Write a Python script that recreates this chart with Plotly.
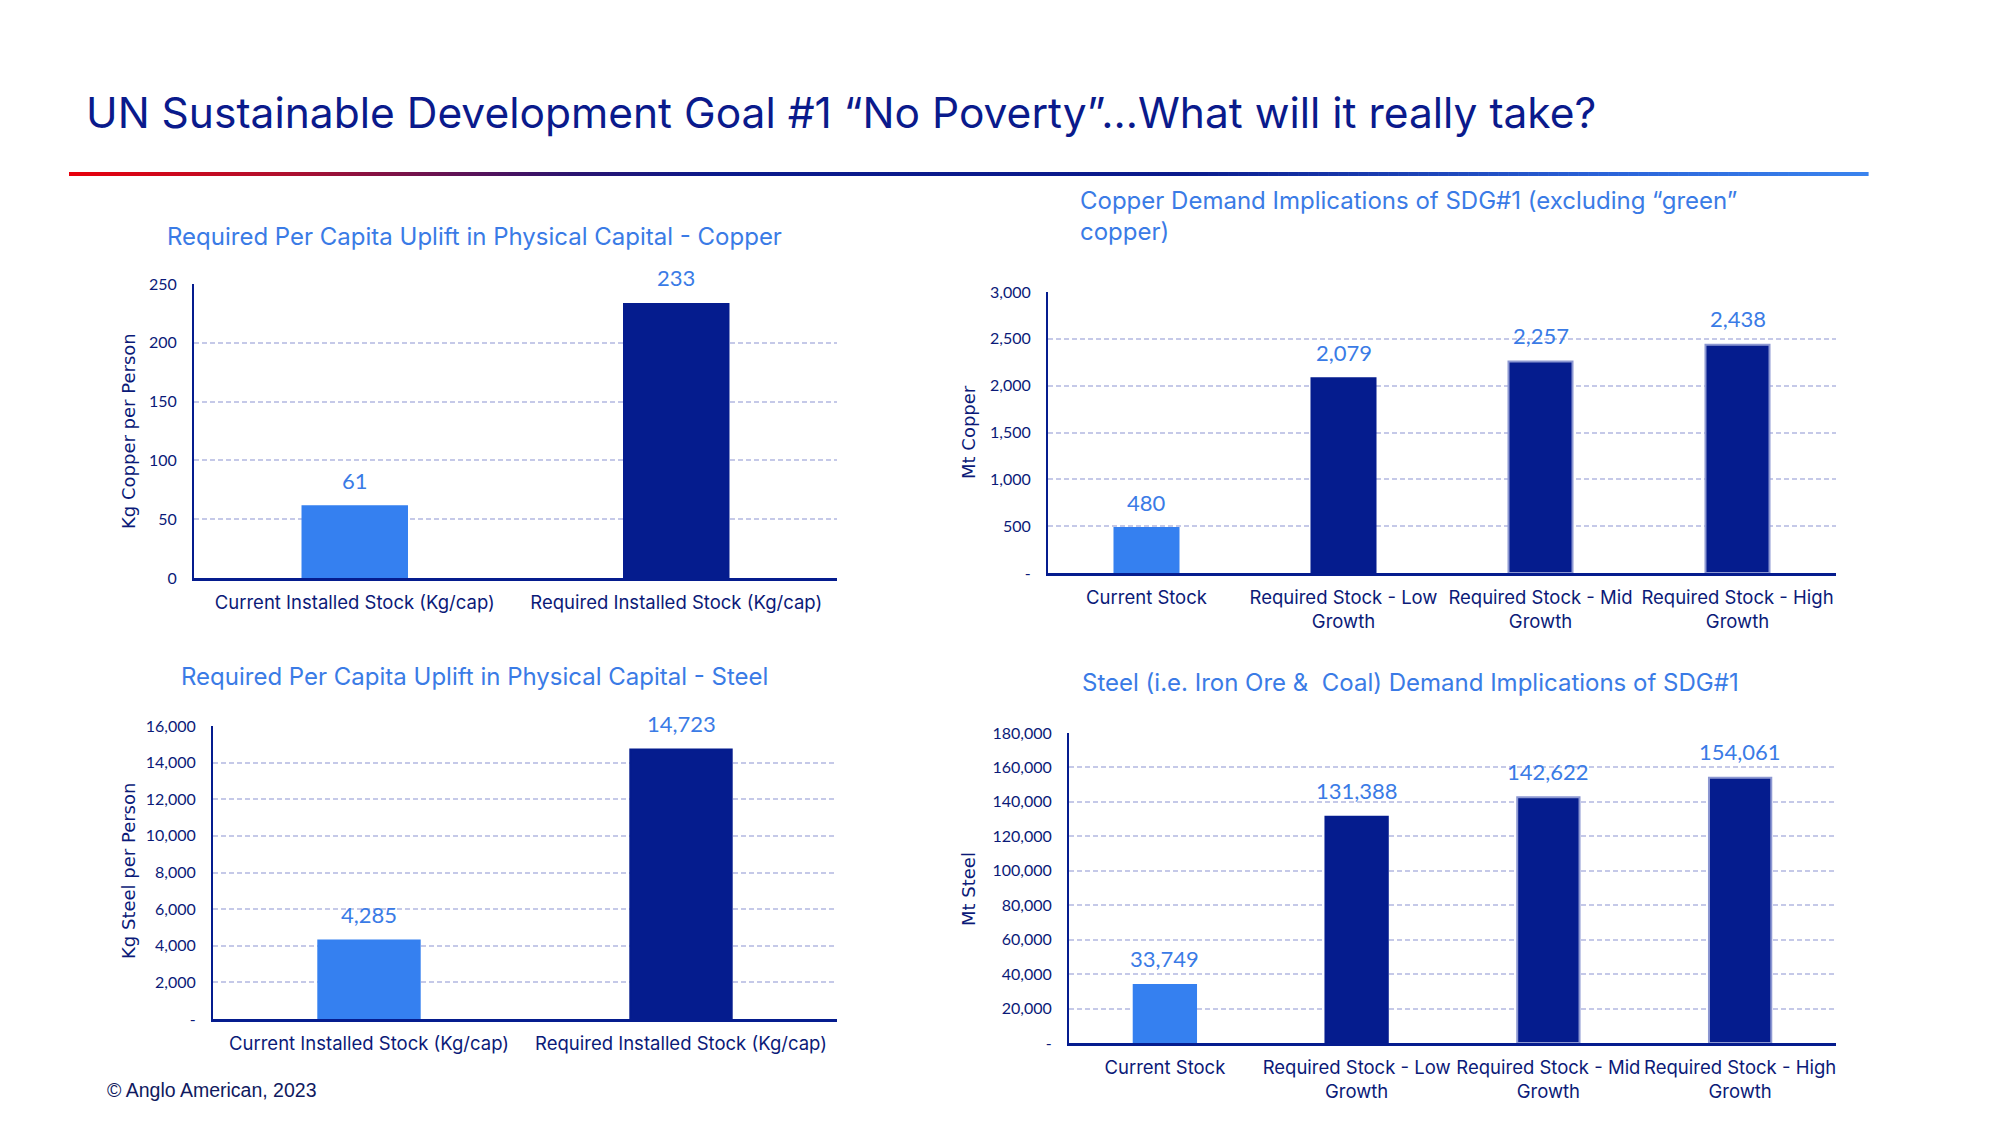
import plotly.graph_objects as go

# ---------------- data ----------------
cap_categories = ["Current Installed Stock (Kg/cap)", "Required Installed Stock (Kg/cap)"]
copper_per_capita = [61, 233]
steel_per_capita = [4285, 14723]

demand_categories = ["Current Stock", "Required Stock - Low<br>Growth",
                     "Required Stock - Mid<br>Growth", "Required Stock - High<br>Growth"]
copper_demand = [480, 2079, 2257, 2438]
steel_demand = [33749, 131388, 142622, 154061]

copper_pc_ticks = [0, 50, 100, 150, 200, 250]
copper_pc_ticktext = ["0", "50", "100", "150", "200", "250"]
copper_dem_ticks = [0, 500, 1000, 1500, 2000, 2500, 3000]
copper_dem_ticktext = ["-", "500", "1,000", "1,500", "2,000", "2,500", "3,000"]
steel_pc_ticks = [0, 2000, 4000, 6000, 8000, 10000, 12000, 14000, 16000]
steel_pc_ticktext = ["-", "2,000", "4,000", "6,000", "8,000", "10,000", "12,000", "14,000", "16,000"]
steel_dem_ticks = [0, 20000, 40000, 60000, 80000, 100000, 120000, 140000, 160000, 180000]
steel_dem_ticktext = ["-", "20,000", "40,000", "60,000", "80,000", "100,000", "120,000",
                      "140,000", "160,000", "180,000"]

# ---------------- styles ----------------
W, H = 2000, 1125
OFF = 8  # page body margin
NAVY = "#051c8e"
TXT_NAVY = "#0b1a78"
LIGHT = "#3580f0"
LABEL_BLUE = "#3a7be6"
GRID = "#c5c9e8"
FONT = "Inter"
NUM_FONT = "Lato"

def px(xp):
    return (xp - OFF) / W

def py(yp):
    return 1 - (yp - OFF) / H

fig = go.Figure()

def add_bars(values, cats, xa, ya, outline):
    colors = [LIGHT] + [NAVY] * (len(values) - 1)
    fig.add_trace(go.Bar(
        x=cats, y=values, xaxis=xa, yaxis=ya,
        marker=dict(color=colors, line=dict(color=outline, width=2)),
        showlegend=False, hoverinfo="x+y"))
    for c, v in zip(cats, values):
        fig.add_annotation(x=c, y=v, xref=xa, yref=ya, text=f"{v:,}",
                           showarrow=False, yanchor="middle", yshift=26,
                           font=dict(family=NUM_FONT, size=22, color=LABEL_BLUE))

add_bars(copper_per_capita, cap_categories, "x", "y", [LIGHT, NAVY])
add_bars(copper_demand, demand_categories, "x2", "y2", [LIGHT, NAVY, "#8d98d2", "#8d98d2"])
add_bars(steel_per_capita, cap_categories, "x3", "y3", [LIGHT, NAVY])
add_bars(steel_demand, demand_categories, "x4", "y4", [LIGHT, NAVY, "#8d98d2", "#8d98d2"])

panels = [
    ((194, 837), (284, 578), [0, 250], copper_pc_ticks, copper_pc_ticktext),
    ((1048, 1836), (292, 573), [0, 3000], copper_dem_ticks, copper_dem_ticktext),
    ((213, 837), (726, 1019), [0, 16000], steel_pc_ticks, steel_pc_ticktext),
    ((1069, 1836), (733, 1043), [0, 180000], steel_dem_ticks, steel_dem_ticktext),
]

layout = dict(
    width=W, height=H, margin=dict(l=0, r=0, t=0, b=0, autoexpand=False),
    paper_bgcolor="white", plot_bgcolor="white",
    bargap=0.675, showlegend=False,
)
for i, (xd, yd, rng, tv, tt) in enumerate(panels, start=1):
    sfx = "" if i == 1 else str(i)
    layout["xaxis" + sfx] = dict(
        domain=[px(xd[0]), px(xd[1])], anchor="y" + sfx, automargin=False,
        showline=True, linecolor=NAVY, linewidth=3, showgrid=False,
        ticks="", ticklabelstandoff=6,
        tickfont=dict(family=FONT, size=18.5, color=TXT_NAVY), fixedrange=True)
    layout["yaxis" + sfx] = dict(
        domain=[py(yd[1]), py(yd[0])], anchor="x" + sfx, range=rng, automargin=False,
        tickvals=tv, ticktext=tt,
        showline=True, linecolor=NAVY, linewidth=2, showgrid=True,
        gridcolor=GRID, gridwidth=1.5, griddash="5px,3px", zeroline=False,
        ticks="", ticklabelstandoff=12,
        tickfont=dict(family=NUM_FONT, size=16, color=TXT_NAVY), fixedrange=True)
fig.update_layout(**layout)

# ---------------- titles / texts ----------------
fig.add_annotation(x=px(84), y=py(112), xref="paper", yref="paper", xanchor="left", yanchor="middle",
                   text="UN Sustainable Development Goal #1 “No Poverty”…What will it really take?",
                   showarrow=False, font=dict(family=FONT, size=42.5, color="#0a1a8c"))

sub_font = dict(family=FONT, size=24, color=LABEL_BLUE)
fig.add_annotation(x=px(474), y=py(236), xref="paper", yref="paper", xanchor="center", yanchor="middle",
                   text="Required Per Capita Uplift in Physical Capital - Copper",
                   showarrow=False, font=sub_font)
fig.add_annotation(x=px(1078), y=py(216), xref="paper", yref="paper", xanchor="left", yanchor="middle",
                   text="Copper Demand Implications of SDG#1 (excluding “green”<br>copper)",
                   showarrow=False, align="left", font=sub_font)
fig.add_annotation(x=px(474), y=py(676), xref="paper", yref="paper", xanchor="center", yanchor="middle",
                   text="Required Per Capita Uplift in Physical Capital - Steel",
                   showarrow=False, font=sub_font)
fig.add_annotation(x=px(1080), y=py(682), xref="paper", yref="paper", xanchor="left", yanchor="middle",
                   text="Steel (i.e. Iron Ore &amp;  Coal) Demand Implications of SDG#1",
                   showarrow=False, font=sub_font)

ytitle_font = dict(family="DejaVu Sans", size=18, color=TXT_NAVY)
for xp_, yp_, t in [(128, 431, "Kg Copper per Person"), (969, 432, "Mt Copper"),
                    (128, 871, "Kg Steel per Person"), (968, 889, "Mt Steel")]:
    fig.add_annotation(x=px(xp_), y=py(yp_), xref="paper", yref="paper", xanchor="center",
                       yanchor="middle", text=t, textangle=-90, showarrow=False, font=ytitle_font)

fig.add_annotation(x=px(105), y=py(1090), xref="paper", yref="paper", xanchor="left", yanchor="middle",
                   text="© Anglo American, 2023", showarrow=False,
                   font=dict(family="Liberation Sans", size=19.5, color="#101a60"))

# ---------------- gradient rule under title ----------------
def lerp(c1, c2, t):
    a = [int(c1[i:i + 2], 16) for i in (1, 3, 5)]
    b = [int(c2[i:i + 2], 16) for i in (1, 3, 5)]
    return "#%02x%02x%02x" % tuple(round(a[k] + (b[k] - a[k]) * t) for k in range(3))

stops = [(0.0, "#e8000c"), (0.12, "#b0102e"), (0.28, "#2a1470"), (0.36, "#0a1a8c"),
         (0.62, "#0a1a8c"), (0.85, "#2a62d8"), (1.0, "#3a84ee")]
x0, x1, yl = 69, 1868, 174
n = 180
for k in range(n):
    t = (k + 0.5) / n
    for j in range(len(stops) - 1):
        if stops[j][0] <= t <= stops[j + 1][0]:
            tt_ = (t - stops[j][0]) / (stops[j + 1][0] - stops[j][0])
            col = lerp(stops[j][1], stops[j + 1][1], tt_)
            break
    xa_ = x0 + (x1 - x0) * k / n
    xb_ = x0 + (x1 - x0) * (k + 1) / n + 0.6
    fig.add_shape(type="rect", xref="paper", yref="paper",
                  x0=px(xa_), x1=px(xb_), y0=py(yl + 2), y1=py(yl - 2),
                  fillcolor=col, line=dict(width=0), layer="above")

fig.write_html("out.html")
